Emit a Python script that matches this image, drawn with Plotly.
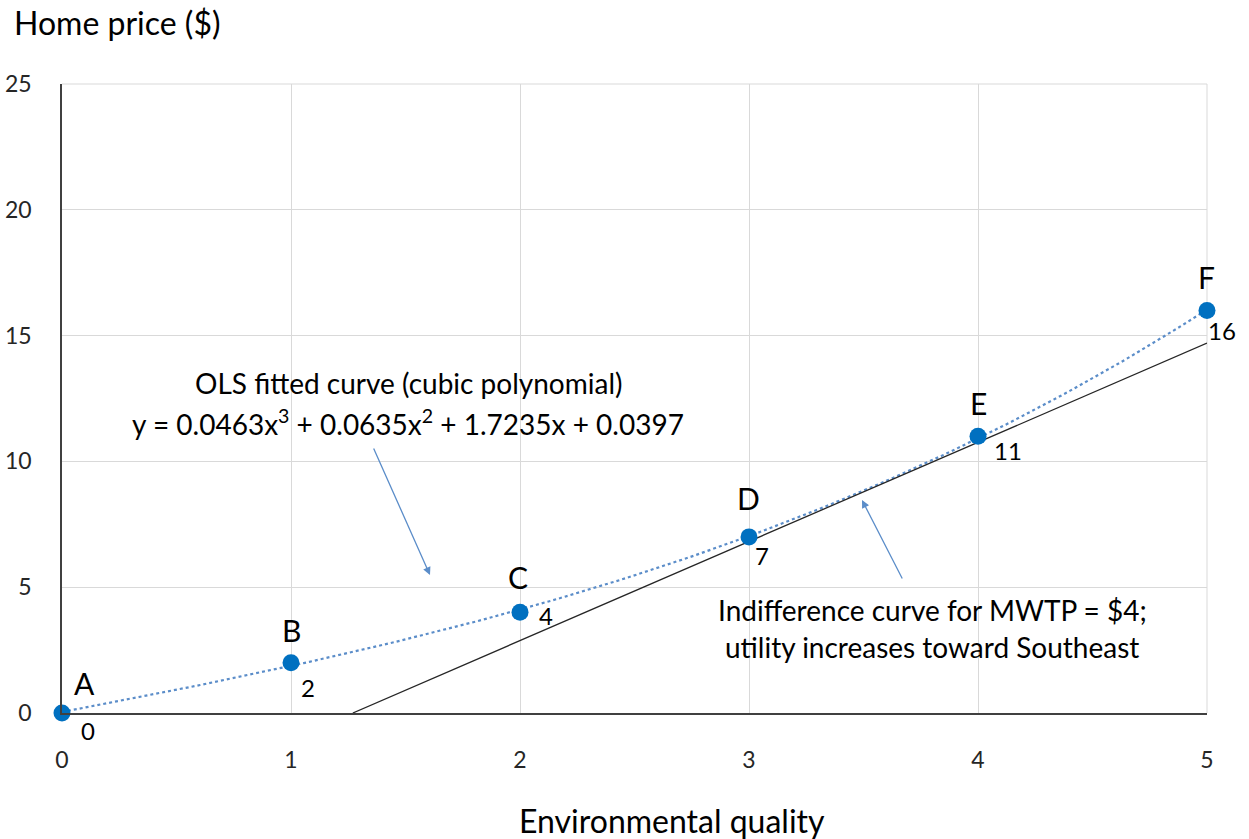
import numpy as np
import plotly.graph_objects as go

# Data
point_labels = ["A", "B", "C", "D", "E", "F"]
quality = [0, 1, 2, 3, 4, 5]
price = [0, 2, 4, 7, 11, 16]
poly_coefs = [0.0463, 0.0635, 1.7235, 0.0397]  # cubic fit from chart label
indiff_x = [1.27, 5.0]
indiff_y = [0.0, 14.7]
x_ticks = [0, 1, 2, 3, 4, 5]
y_ticks = [0, 5, 10, 15, 20, 25]

FONT = "Lato, Calibri, 'Open Sans', sans-serif"
BLUE = "#0070C0"
DOT = "#5B8DC9"

fx = np.linspace(0, 5, 200)
fy = np.polyval(poly_coefs, fx)

fig = go.Figure()
fig.add_trace(go.Scatter(x=fx, y=fy, mode="lines",
                         line=dict(color=DOT, width=2.2, dash="dot"),
                         hoverinfo="skip", showlegend=False))
fig.add_trace(go.Scatter(x=indiff_x, y=indiff_y, mode="lines",
                         line=dict(color="#262626", width=1.3),
                         showlegend=False))
fig.add_trace(go.Scatter(x=quality, y=price, mode="markers", cliponaxis=False,
                         marker=dict(color=BLUE, size=17),
                         showlegend=False))

W, H = 1249, 839
L, R, T, B = 62, 42, 84, 126
pw, ph = W - L - R, H - T - B

def px_to_paper(px, py):
    return (px - L) / pw, (H - B - py) / ph

letter_off = [(22, 30), (0, 33), (-2, 35), (-1, 39), (0, 33), (-1, 33)]
value_off = [(26, -17), (17, -25), (26, -3), (13, -19), (30, -14), (15, -20)]
ann = []
for i, (lx, ly) in enumerate(zip(quality, price)):
    ann.append(dict(x=lx, y=ly, text=point_labels[i], showarrow=False,
                    xanchor="center", yanchor="middle",
                    xshift=letter_off[i][0], yshift=letter_off[i][1],
                    font=dict(size=30, color="#000000", family=FONT)))
    ann.append(dict(x=lx, y=ly, text=str(price[i]), showarrow=False,
                    xanchor="center", yanchor="middle",
                    xshift=value_off[i][0], yshift=value_off[i][1],
                    font=dict(size=24, color="#000000", family=FONT)))

for txt, (cx, cy) in [("OLS fitted curve (cubic polynomial)", (408, 383)),
                      ("y = 0.0463x<sup>3</sup> + 0.0635x<sup>2</sup> + 1.7235x + 0.0397", (408, 422)),
                      ("Indifference curve for MWTP = $4;", (932, 610)),
                      ("utility increases toward Southeast", (932, 647))]:
    px, py = px_to_paper(cx, cy)
    ann.append(dict(x=px, y=py, xref="paper", yref="paper", text=txt,
                    xanchor="center", yanchor="middle",
                    showarrow=False, font=dict(size=28, color="#000000", family=FONT)))

# arrows
for (x0, y0), (x1, y1) in [((373, 447), (430, 575)), ((903, 580), (862, 500))]:
    hx, hy = px_to_paper(x1, y1)
    ann.append(dict(x=hx, y=hy, xref="paper", yref="paper", ax=x0 - x1, ay=y0 - y1,
                    axref="pixel", ayref="pixel", text="", showarrow=True,
                    arrowhead=2, arrowsize=1.2, arrowwidth=1.3, arrowcolor=DOT))

# axis titles
tx, ty = px_to_paper(12, 22)
ann.append(dict(x=tx, y=ty, xref="paper", yref="paper",
                text="Home price ($)", showarrow=False, xanchor="left", yanchor="middle",
                font=dict(size=32, color="#000000", family=FONT)))
ax_, ay_ = px_to_paper(672, 820)
ann.append(dict(x=ax_, y=ay_, xref="paper", yref="paper",
                text="Environmental quality", showarrow=False,
                xanchor="center", yanchor="middle",
                font=dict(size=32, color="#000000", family=FONT)))

fig.update_layout(
    width=W, height=H,
    margin=dict(l=L, r=R, t=T, b=B, autoexpand=False),
    plot_bgcolor="white", paper_bgcolor="white",
    font=dict(family=FONT, color="#000000"),
    annotations=ann,
    xaxis=dict(range=[0, 5], tickvals=x_ticks, showgrid=True, gridcolor="#D9D9D9",
               gridwidth=1, zeroline=False, showline=True, linecolor="#404040",
               linewidth=1.5, tickfont=dict(size=23, color="#262626"),
               ticks="outside", ticklen=26, tickcolor="rgba(0,0,0,0)",
               fixedrange=True),
    yaxis=dict(range=[0, 25], tickvals=y_ticks, showgrid=True, gridcolor="#D9D9D9",
               gridwidth=1, zeroline=False, showline=True, linecolor="#404040",
               linewidth=1.5, tickfont=dict(size=23, color="#262626"),
               ticks="outside", ticklen=24, tickcolor="rgba(0,0,0,0)",
               fixedrange=True),
)
fig.add_shape(type="line", xref="paper", yref="paper", x0=0, x1=1, y0=1, y1=1,
              line=dict(color="#D9D9D9", width=1), layer="below")
fig.add_shape(type="line", xref="paper", yref="paper", x0=1, x1=1, y0=0, y1=1,
              line=dict(color="#D9D9D9", width=1), layer="below")

fig.write_html("out.html", config={"displayModeBar": False},
               post_script="document.body.style.margin='0';")
